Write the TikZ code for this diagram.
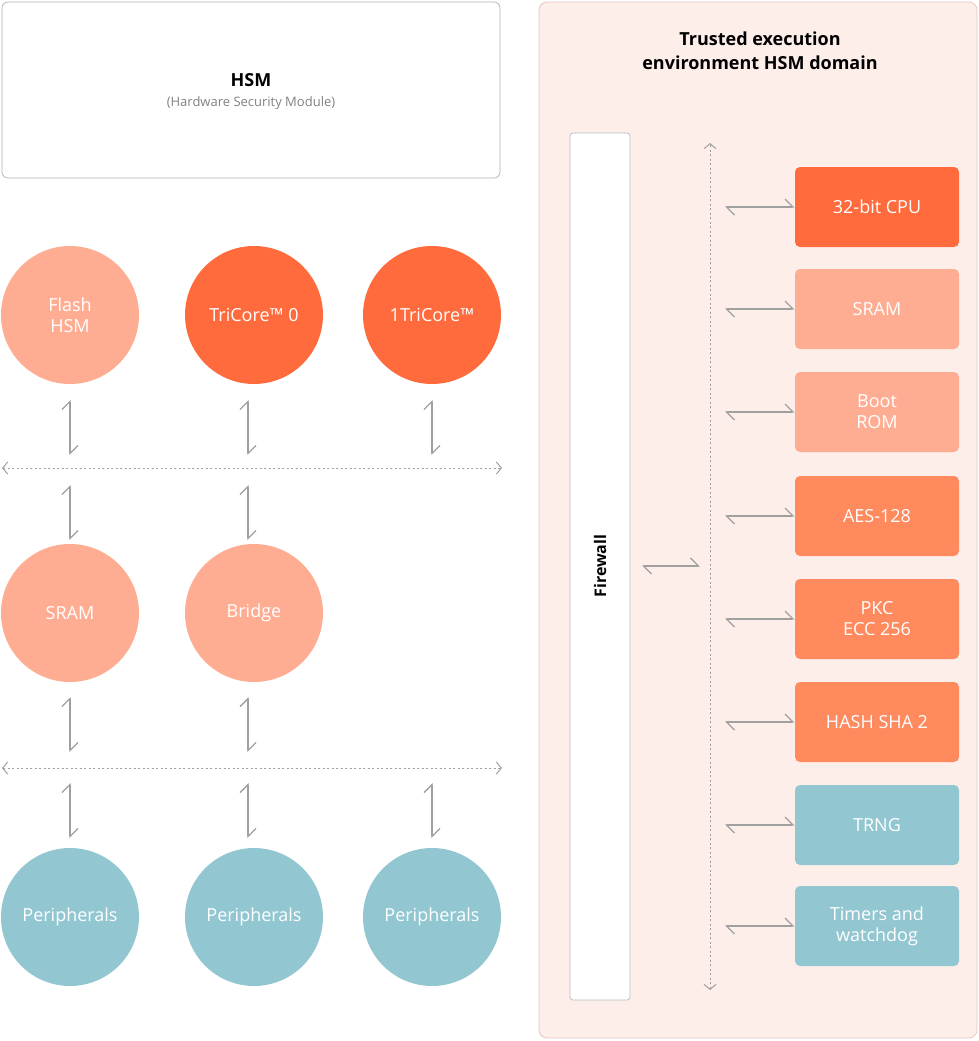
\documentclass[tikz,border=0pt]{standalone}
\usepackage{fontspec}
\setmainfont{Open Sans}
\usetikzlibrary{arrows.meta,positioning}
\definecolor{lightsal}{HTML}{FFAD92}
\definecolor{deeporg}{HTML}{FF6B3D}
\definecolor{midorg}{HTML}{FF8A5E}
\definecolor{tealb}{HTML}{92C7D2}
\definecolor{panelbg}{HTML}{FDEEEA}
\definecolor{panelbd}{HTML}{E8C6BC}
\definecolor{linegray}{HTML}{A0A0A0}
\tikzset{every picture/.style={line width=0.75pt}}
\tikzset{
  unit/.style={circle,minimum size=138pt,inner sep=0pt,text=white,font=\fontsize{18}{21}\selectfont,align=center},
  blk/.style={rounded corners=5pt,minimum width=164pt,minimum height=80pt,inner sep=0pt,text=white,font=\fontsize{18}{21}\selectfont,align=center},
  zlink/.style={draw=linegray,line width=1.3pt,{Straight Barb[left,length=8pt,width=16pt]}-{Straight Barb[left,length=8pt,width=16pt]}},
  busline/.style={draw=linegray,line width=1pt,dash pattern=on 2pt off 2.5pt,{Straight Barb[length=5pt,width=12pt]}-{Straight Barb[length=5pt,width=12pt]}}
}

\begin{document}
\begin{tikzpicture}[x=1pt,y=-1pt]
	\useasboundingbox (0,0) rectangle (979,1041);
	
	%HSM header box
	\draw [draw=linegray!80,rounded corners=6pt] (2,2) rectangle (500,178);
	\node (hsm) at (251,80) {\fontsize{18}{21}\selectfont\bfseries HSM};
	\node [text=gray] (hsmsub) at (251,103) {\fontsize{13}{15}\selectfont (Hardware Security Module)};
	
	%Circles
	\node [unit,fill=lightsal] (flash) at (70,315) {Flash\\HSM};
	\node [unit,fill=deeporg] (tc0) at (254,315) {TriCore™ 0};
	\node [unit,fill=deeporg] (tc1) at (432,315) {1TriCore™};
	\node [unit,fill=lightsal] (sram) at (70,613) {SRAM};
	\node [unit,fill=lightsal] (bridge) at (254,613) {Bridge};
	\node [unit,fill=tealb] (per1) at (70,917) {Peripherals};
	\node [unit,fill=tealb] (per2) at (254,917) {Peripherals};
	\node [unit,fill=tealb] (per3) at (432,917) {Peripherals};
	
	%Buses
	\coordinate (busAw) at (2,468); \coordinate (busAe) at (502,468);
	\coordinate (busBw) at (2,768); \coordinate (busBe) at (502,768);
	\draw [busline] (busAw) -- (busAe);
	\draw [busline] (busBw) -- (busBe);
	
	%Links
	\foreach \x in {70,248,432} {
		\draw [zlink] (\x,455) -- (\x,400);
		\draw [zlink] (\x,838) -- (\x,783);
	}
	\foreach \x in {70,248} {
		\draw [zlink] (\x,540) -- (\x,485);
		\draw [zlink] (\x,752) -- (\x,697);
	}
	
	%Right panel
	\draw [draw=panelbd,fill=panelbg,rounded corners=8pt] (539,2) rectangle (977,1038);
	\node [align=center,font=\fontsize{18}{24}\selectfont\bfseries] (tee) at (760,51) {Trusted execution\\environment HSM domain};
	\draw [draw=linegray!70,fill=white,rounded corners=3pt] (570,133) rectangle (630,1000);
	\node [rotate=90,font=\fontsize{16}{19}\selectfont\bfseries] (fw) at (600,566) {Firewall};
	\draw [busline] (710,990) -- (710,143);
	\draw [zlink] (642,566) -- (700,566);
	
	%Blocks
	\foreach \y/\c/\t in {207/deeporg/32-bit CPU, 309/lightsal/SRAM, 412/lightsal/Boot\\ROM, 516/midorg/AES-128, 619/midorg/PKC\\ECC 256, 722/midorg/HASH SHA 2, 825/tealb/TRNG, 926/tealb/Timers and\\watchdog} {
		\node [blk,fill=\c] (b\y) at (877,\y) {\t};
		\draw [zlink] (725,\y) -- (b\y.west);
	}
\end{tikzpicture}
\end{document}
